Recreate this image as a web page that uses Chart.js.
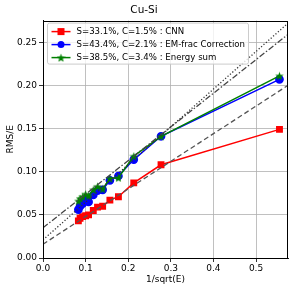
<!DOCTYPE html>
<html>
<head>
<meta charset="utf-8">
<script src="https://cdn.jsdelivr.net/npm/chart.js@4"></script>
<style>
  html, body { margin: 0; padding: 0; background: #fff; }
  #wrap { width: 295px; height: 291px; }
</style>
</head>
<body>
<div id="wrap"><canvas id="myChart" width="295" height="291"></canvas></div>
<script>
// data
const xs = [0.083, 0.087, 0.093, 0.100, 0.107, 0.118, 0.128, 0.140, 0.157, 0.177, 0.213, 0.277, 0.555]
const cnn = [0.043, 0.046, 0.048, 0.049, 0.050, 0.055, 0.059, 0.060, 0.067, 0.071, 0.087, 0.108, 0.149]
const emFrac = [0.056, 0.060, 0.063, 0.067, 0.065, 0.073, 0.078, 0.079, 0.090, 0.095, 0.114, 0.141, 0.207]
const eSum = [0.066, 0.069, 0.071, 0.074, 0.072, 0.079, 0.083, 0.080, 0.092, 0.093, 0.118, 0.141, 0.211]

const refX = [0, 0.575]
const refDashed = [0.016, 0.200]
const refDotted = [0.021, 0.272]
const refDashDot = [0.035, 0.259]

const labels = [
    'S=33.1%, C=1.5% : CNN',
    'S=43.4%, C=2.1% : EM-frac Correction',
    'S=38.5%, C=3.4% : Energy sum'
]

const xTicks = [0, 0.1, 0.2, 0.3, 0.4, 0.5]
const yTicks = [0, 0.05, 0.10, 0.15, 0.20, 0.25]

const FONT = 'DejaVu Sans'

const pts = (ys, xv) => ys.map((y, i) => ({ x: xv[i], y: y }))

// filled star marker like matplotlib '*'
const makeStar = (size, color) => {
    const c = document.createElement('canvas')
    c.width = size; c.height = size
    const g = c.getContext('2d')
    const cx = size / 2, cy = size / 2 + 0.5, R = size / 2, r = R * 0.42
    g.beginPath()
    for (let i = 0; i < 10; i++) {
        const rad = i % 2 ? r : R
        const a = -Math.PI / 2 + i * Math.PI / 5
        g.lineTo(cx + rad * Math.cos(a), cy + rad * Math.sin(a))
    }
    g.closePath()
    g.fillStyle = color
    g.fill()
    return c
}
const star = makeStar(9, '#008000')

const refLine = (ys, dash, color) => ({
    data: pts(ys, refX),
    borderColor: color,
    borderWidth: 1.3,
    borderDash: dash,
    pointRadius: 0,
    fill: false
})

const series = [
    { label: labels[0], data: pts(cnn, xs), borderColor: '#ff0000', backgroundColor: '#ff0000', pointStyle: 'rect', pointRadius: 3.8, borderWidth: 1.5 },
    { label: labels[1], data: pts(emFrac, xs), borderColor: '#0000ff', backgroundColor: '#0000ff', pointStyle: 'circle', pointRadius: 3.6, borderWidth: 1.5 },
    { label: labels[2], data: pts(eSum, xs), borderColor: '#008000', backgroundColor: '#008000', pointStyle: star, pointRadius: 4, borderWidth: 1.5 }
]

// reference lines first so they sit on top, then green over blue over red
const datasets = [
    refLine(refDashed, [5, 3], '#555555'),
    refLine(refDotted, [1.2, 2], '#333333'),
    refLine(refDashDot, [6, 2, 1.5, 2], '#444444'),
    series[2], series[1], series[0]
]

const framePlugin = {
    id: 'frameAndLegend',
    afterDraw: (chart) => {
        const { ctx, chartArea: a } = chart
        ctx.save()
        ctx.strokeStyle = '#000'
        ctx.lineWidth = 1
        ctx.strokeRect(Math.round(a.left) + 0.5, Math.round(a.top) + 0.5, Math.round(a.right - a.left) - 1, Math.round(a.bottom - a.top))

        // legend box, upper left
        const bx = a.left + 4.5, by = a.top + 2.5, bw = 201, bh = 41
        ctx.fillStyle = 'rgba(255,255,255,0.8)'
        ctx.strokeStyle = '#cccccc'
        ctx.beginPath()
        ctx.roundRect(bx, by, bw, bh, 2)
        ctx.fill()
        ctx.stroke()

        ctx.font = '8.6px "' + FONT + '"'
        ctx.textBaseline = 'middle'
        series.forEach((s, i) => {
            const y = by + 8.5 + i * 13
            ctx.strokeStyle = s.borderColor
            ctx.lineWidth = 1.5
            ctx.beginPath()
            ctx.moveTo(bx + 4, y)
            ctx.lineTo(bx + 23, y)
            ctx.stroke()
            const mx = bx + 13.5
            ctx.fillStyle = s.backgroundColor
            if (i == 0) {
                ctx.fillRect(mx - 3.5, y - 3.5, 7, 7)
            } else if (i == 1) {
                ctx.beginPath()
                ctx.arc(mx, y, 3.5, 0, Math.PI * 2)
                ctx.fill()
            } else {
                ctx.drawImage(star, mx - 4.5, y - 4.5)
            }
            ctx.fillStyle = '#000'
            ctx.fillText(s.label, bx + 29, y + 0.5)
        })
        ctx.restore()
    }
}

const ctx = document.querySelector('#myChart').getContext('2d')

const config = {
    type: 'line',
    data: { datasets: datasets },
    plugins: [framePlugin],
    options: {
        responsive: false,
        animation: false,
        layout: { padding: { right: 7, top: 0, left: 0, bottom: 0 } },
        plugins: {
            legend: { display: false },
            tooltip: { enabled: false },
            title: {
                display: true,
                text: 'Cu-Si',
                color: '#000',
                font: { family: FONT, size: 10.5, weight: 'normal' },
                padding: { top: 4, bottom: 4 }
            }
        },
        scales: {
            x: {
                type: 'linear',
                min: 0,
                max: 0.575,
                afterFit: (scale) => { scale.height = 33 },
                afterBuildTicks: (scale) => { scale.ticks = xTicks.map(v => ({ value: v })) },
                ticks: {
                    color: '#000',
                    font: { family: FONT, size: 9 },
                    padding: 1,
                    maxRotation: 0,
                    callback: (v) => v.toFixed(1)
                },
                grid: { color: '#b0b0b0', lineWidth: 0.8, tickLength: 4, tickColor: '#000' },
                border: { color: '#000', width: 1 },
                title: {
                    display: true,
                    text: '1/sqrt(E)',
                    color: '#000',
                    font: { family: FONT, size: 9 },
                    padding: { top: 0, bottom: 6 }
                }
            },
            y: {
                min: 0,
                max: 0.275,
                afterFit: (scale) => { scale.width = 43 },
                afterBuildTicks: (scale) => { scale.ticks = yTicks.map(v => ({ value: v })) },
                ticks: {
                    color: '#000',
                    font: { family: FONT, size: 9 },
                    padding: 2,
                    callback: (v) => v.toFixed(2)
                },
                grid: { color: '#b0b0b0', lineWidth: 0.8, tickLength: 4, tickColor: '#000' },
                border: { color: '#000', width: 1 },
                title: {
                    display: true,
                    text: 'RMS/E',
                    color: '#000',
                    font: { family: FONT, size: 9 },
                    padding: { top: 5.5, bottom: 0 }
                }
            }
        }
    }
}

const myChart = new Chart(ctx, config)
</script>
</body>
</html>
